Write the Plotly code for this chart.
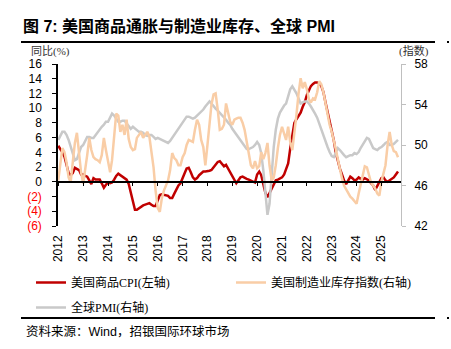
import pandas as pd
import plotly.graph_objects as go

# ---------------- data ----------------
months = pd.date_range("2012-01-01", "2025-09-01", freq="MS").strftime("%Y-%m-%d").tolist()

cpi_goods = [
    # 2012
    4.9, 4.5, 4.0, 3.4, 2.3, 1.2, 0.9, 1.2, 1.9, 1.8, 1.6, 1.0,
    # 2013
    1.0, 0.8, 0.7, 0.2, -0.3, 0.5, 0.3, 0.3, 0.3, -0.2, -0.8, -0.4,
    # 2014
    -0.1, -0.2, -0.1, 0.3, 0.8, 1.1, 0.9, 0.7, 0.5, 0.3, -0.3, -1.5,
    # 2015
    -2.9, -3.8, -3.8, -3.6, -3.3, -3.2, -3.1, -3.0, -2.9, -3.1, -3.3, -3.3,
    # 2016
    -2.5, -1.8, -1.7, -1.8, -1.8, -1.9, -2.2, -2.2, -1.6, -1.0, -0.5, -0.2,
    # 2017
    0.4, 1.2, 1.8, 1.9, 1.3, 0.6, 0.3, 0.5, 0.9, 1.2, 1.4, 1.4,
    # 2018
    1.4, 1.5, 1.6, 2.0, 2.4, 2.7, 2.8, 2.5, 2.1, 2.3, 1.8, 1.3,
    # 2019
    0.7, 0.2, -0.2, 0.2, 0.6, 0.7, 0.5, 0.4, 0.3, 0.2, 0.0, -0.1,
    # 2020
    1.0, 1.4, 0.9, -0.5, -1.5, -2.1, -1.5, -1.1, -0.5, 0.2, 0.3, 0.5,
    # 2021
    0.6, 1.0, 1.7, 2.5, 4.5, 6.5, 8.0, 8.5, 8.9, 9.4, 10.2, 10.8,
    # 2022
    11.8, 12.4, 13.0, 13.3, 13.5, 13.5, 13.4, 13.0, 12.2, 10.8, 9.5, 8.2,
    # 2023
    7.0, 5.6, 4.0, 2.8, 1.8, 1.0, 0.2, -0.3, 0.2, 0.7, 0.5, 0.2,
    # 2024
    0.3, 0.6, 0.4, 0.3, 0.5, 0.4, 0.2, -0.2, -0.5, -1.1, -0.5, -0.1,
    # 2025
    0.5, 0.6, 0.2, 0.0, 0.2, 0.5, 0.6, 1.0, 1.4,
]

ism_inventory = [
    # 2012
    46.5, 48.5, 49.7, 49.3, 48.3, 46.8, 46.3, 48.3, 50.2, 51.2, 48.8, 47.3,
    # 2013
    46.2, 48.0, 49.0, 50.7, 49.5, 48.8, 48.6, 48.5, 48.3, 49.0, 50.7, 49.5,
    # 2014
    48.5, 47.3, 48.5, 50.5, 53.1, 52.9, 51.3, 52.0, 51.0, 52.5, 50.6, 49.8,
    # 2015
    49.5, 49.6, 50.7, 51.0, 51.3, 50.7, 51.0, 51.3, 50.8, 49.5, 47.8, 45.5,
    # 2016
    43.8, 43.4, 44.7, 45.5, 46.0, 46.5, 47.5, 49.2, 48.7, 48.5, 48.0, 48.0,
    # 2017
    48.8, 49.2, 50.0, 50.5, 50.4, 50.3, 51.5, 52.5, 52.0, 50.5, 49.8, 48.0,
    # 2018
    50.0, 52.5, 54.0, 55.0, 55.1, 53.5, 51.5, 51.6, 52.0, 54.1, 53.3, 52.3,
    # 2019
    52.0, 52.5, 52.6, 52.7, 52.7, 52.2, 51.5, 50.3, 49.3, 48.0, 47.7, 48.4,
    # 2020
    47.7, 47.9, 49.3, 48.6, 49.2, 50.2, 48.0, 46.5, 46.8, 48.0, 49.7, 51.0,
    # 2021
    51.8, 51.2, 50.5, 51.8, 50.3, 49.5, 51.0, 53.0, 55.1, 56.6, 55.6, 56.2,
    # 2022
    55.5, 54.5, 54.2, 54.6, 54.5, 55.2, 56.3, 56.0, 55.2, 54.0, 53.0, 52.0,
    # 2023
    51.3, 50.5, 49.6, 48.6, 47.5, 46.7, 46.0, 45.6, 45.2, 44.9, 44.7, 44.5,
    # 2024
    44.2, 45.2, 46.0, 46.8, 47.9, 47.8, 47.0, 46.3, 46.0, 45.7, 45.2, 45.0,
    # 2025
    46.4, 47.2, 48.0, 50.0, 51.3, 50.0, 49.4, 49.3, 48.8,
]

global_pmi = [
    # 2012
    50.5, 51.0, 51.3, 51.3, 51.0, 50.5, 49.8, 49.0, 48.5, 48.6, 49.2, 49.8,
    # 2013
    50.0, 50.5, 50.8, 50.8, 50.7, 50.7, 51.0, 51.2, 51.5, 51.8, 52.0, 52.3,
    # 2014
    52.3, 52.7, 53.1, 52.9, 52.6, 52.3, 52.3, 52.4, 52.4, 52.1, 51.8, 51.6,
    # 2015
    51.8, 51.6, 51.4, 51.3, 51.3, 51.2, 51.0, 50.9, 51.0, 51.0, 50.8, 50.6,
    # 2016
    50.7, 50.6, 50.5, 50.4, 50.3, 50.2, 50.4, 50.7, 51.0, 51.3, 51.7, 52.0,
    # 2017
    52.3, 52.6, 52.8, 52.8, 52.7, 52.6, 52.7, 52.9, 53.1, 53.3, 53.5, 53.8,
    # 2018
    54.0, 54.3, 54.1, 53.8, 53.6, 53.4, 53.2, 53.0, 52.7, 52.5, 52.2, 52.0,
    # 2019
    51.6, 51.3, 51.0, 50.7, 50.5, 50.2, 49.9, 49.6, 49.6, 49.7, 49.8, 50.0,
    # 2020
    50.3, 50.0, 49.2, 47.5, 45.0, 43.1, 44.2, 47.5, 49.8, 51.5, 52.6, 53.2,
    # 2021
    53.6, 53.9, 54.1, 54.8, 55.5, 55.8, 55.5, 55.1, 54.6, 54.1, 54.2, 54.3,
    # 2022
    54.3, 54.1, 53.8, 53.5, 53.1, 52.7, 52.1, 51.5, 50.9, 50.3, 49.8, 49.3,
    # 2023
    48.9, 48.8, 49.3, 49.7, 49.5, 49.2, 49.0, 48.8, 48.9, 49.0, 49.0, 49.2,
    # 2024
    49.1, 49.3, 49.7, 50.0, 50.4, 50.7, 50.6, 50.1, 49.7, 49.6, 49.5, 49.7,
    # 2025
    49.8, 50.0, 50.2, 50.3, 50.0, 50.0, 50.1, 50.3, 50.5,
]

left_ticks = [-6, -4, -2, 0, 2, 4, 6, 8, 10, 12, 14, 16]
left_ticktext = ['<span style="color:#FF0000">(6)</span>',
                 '<span style="color:#FF0000">(4)</span>',
                 '<span style="color:#FF0000">(2)</span>',
                 "0", "2", "4", "6", "8", "10", "12", "14", "16"]
right_ticks = [42, 46, 50, 54, 58]
year_ticks = [f"{y}-01-01" for y in range(2012, 2026)]
year_labels = [str(y) for y in range(2012, 2026)]

name_cpi = "美国商品CPI(左轴)"
name_inv = "美国制造业库存指数(右轴)"
name_pmi = "全球PMI(右轴)"

# ---------------- figure ----------------
W, H = 451, 349
ML, MR, MT, MB = 58, 50, 64, 123
RED = "#C00000"
ORANGE = "#F9CDA6"
GRAY = "#C9C9C9"
TICKFONT = dict(family="Liberation Sans, Arial, sans-serif", size=12, color="#000000")
CJK_SERIF = "Liberation Serif, Noto Sans CJK SC, serif"

pw = W - ML - MR
ph = H - MT - MB
def px_x(x):
    return (x - ML) / pw
def px_y(y):
    return (H - MB - y) / ph

fig = go.Figure()
fig.add_trace(go.Scatter(x=months, y=global_pmi, name=name_pmi, yaxis="y2", mode="lines",
                         line=dict(color=GRAY, width=2.5), legend="legend3"))
fig.add_trace(go.Scatter(x=months, y=ism_inventory, name=name_inv, yaxis="y2", mode="lines",
                         line=dict(color=ORANGE, width=2.5), legend="legend2"))
fig.add_trace(go.Scatter(x=months, y=cpi_goods, name=name_cpi, yaxis="y", mode="lines",
                         line=dict(color=RED, width=2.5), legend="legend"))
# invisible trace carrying the zero-line axis
fig.add_trace(go.Scatter(x=months[:1], y=[0], xaxis="x2", yaxis="y", mode="lines",
                         showlegend=False, hoverinfo="skip", line=dict(width=0)))

xr = ["2011-12-28", "2025-10-15"]

legend_common = dict(orientation="h", xanchor="left", yanchor="top",
                     font=dict(family=CJK_SERIF, size=12, color="#000000"),
                     bgcolor="rgba(0,0,0,0)")

fig.update_layout(
    width=W, height=H,
    margin=dict(l=ML, r=MR, t=MT, b=MB),
    paper_bgcolor="white", plot_bgcolor="white",
    xaxis=dict(type="date", range=xr, tickvals=year_ticks, ticktext=year_labels,
               tickangle=-90, tickfont=TICKFONT, showline=False, showgrid=False,
               zeroline=False, ticks="", ticklabelstandoff=6),
    xaxis2=dict(type="date", range=xr, overlaying="x", anchor="free", position=6 / 22,
                tickvals=year_ticks, showticklabels=False, showline=True,
                linecolor="#000000", linewidth=1.5, ticks="outside", ticklen=3,
                tickcolor="#000000", tickwidth=1, showgrid=False, zeroline=False),
    yaxis=dict(range=[-6, 16], tickvals=left_ticks, ticktext=left_ticktext,
               tickfont=TICKFONT, showline=True, linecolor="#000000", linewidth=1.5,
               ticks="outside", ticklen=4, tickcolor="#000000", showgrid=False,
               zeroline=False, ticklabelstandoff=8),
    yaxis2=dict(range=[42, 58], tickvals=right_ticks, overlaying="y", side="right",
                tickfont=TICKFONT, showline=True, linecolor="#BFBFBF", linewidth=1,
                ticks="outside", ticklen=4, tickcolor="#BFBFBF", showgrid=False,
                zeroline=False, ticklabelstandoff=6),
    showlegend=True,
    legend=dict(x=px_x(31), y=px_y(268), **legend_common),
    legend2=dict(x=px_x(231), y=px_y(268), **legend_common),
    legend3=dict(x=px_x(31), y=px_y(293), **legend_common),
)

fig.add_annotation(text="<b>图 7: 美国商品通胀与制造业库存、全球 PMI</b>",
                   xref="paper", yref="paper", x=px_x(21), y=px_y(26),
                   xanchor="left", yanchor="middle", showarrow=False,
                   font=dict(family="Liberation Sans, Noto Sans CJK SC, sans-serif", size=16, color="#000000"))
fig.add_annotation(text="同比(%)", xref="paper", yref="paper", x=px_x(29), y=px_y(51),
                   xanchor="left", yanchor="middle", showarrow=False,
                   font=dict(family=CJK_SERIF, size=11, color="#333333"))
fig.add_annotation(text="(指数)", xref="paper", yref="paper", x=px_x(431), y=px_y(51),
                   xanchor="right", yanchor="middle", showarrow=False,
                   font=dict(family=CJK_SERIF, size=11, color="#333333"))
fig.add_annotation(text="资料来源：Wind，招银国际环球市场", xref="paper", yref="paper",
                   x=px_x(24), y=px_y(331), xanchor="left", yanchor="middle", showarrow=False,
                   font=dict(family="Liberation Sans, Noto Sans CJK SC, sans-serif", size=12.5, color="#000000"))

for yline in (42, 318):
    fig.add_shape(type="line", xref="paper", yref="paper", x0=px_x(21), x1=px_x(435),
                  y0=px_y(yline), y1=px_y(yline), line=dict(color="#000000", width=2))
    fig.add_shape(type="line", xref="paper", yref="paper", x0=px_x(447), x1=px_x(449),
                  y0=px_y(yline), y1=px_y(yline), line=dict(color="#000000", width=2))

fig.write_html("out.html")
